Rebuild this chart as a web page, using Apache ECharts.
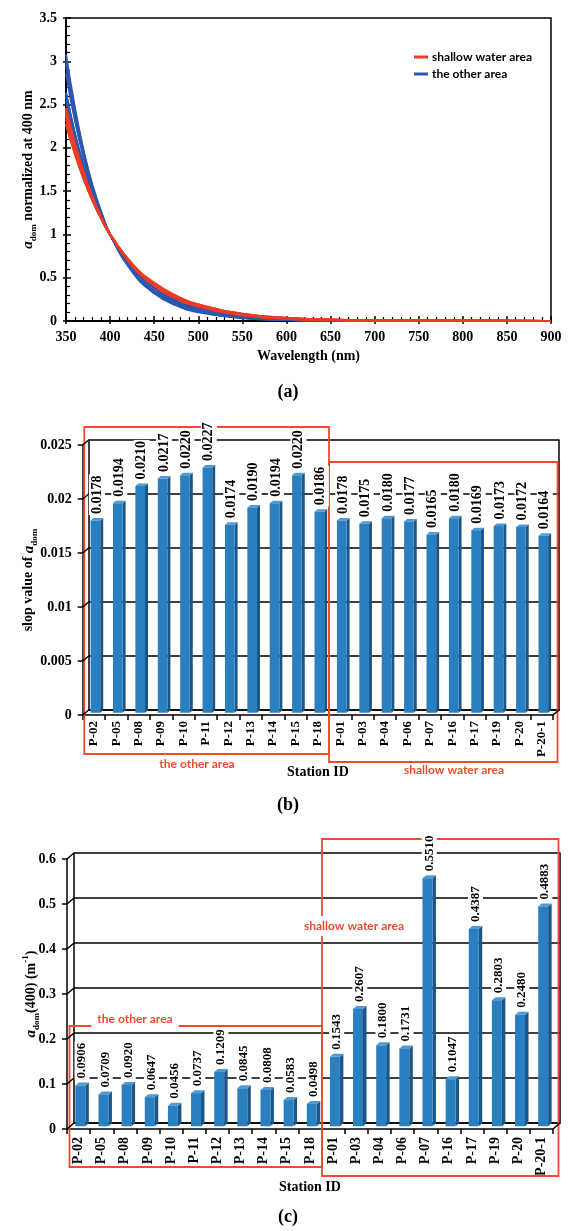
<!DOCTYPE html>
<html>
<head>
<meta charset="utf-8">
<script src="https://cdn.jsdelivr.net/npm/echarts@6/dist/echarts.min.js"></script>
<style>html,body{margin:0;padding:0;background:#fff}#c{width:576px;height:1231px}</style>
</head>
<body>
<div id="c"></div>
<script>
// ---------- DATA ----------
const wavelengths = [350,360,370,380,390,400,425,450,475,500,550,600,650,700,900];
// a_dom normalized at 400 nm
const otherCurves = [
  [2.43,2.04,1.71,1.43,1.20,1,0.64,0.41,0.26,0.17,0.070,0.028,0.012,0.005,0],
  [2.64,2.17,1.79,1.47,1.21,1,0.62,0.38,0.23,0.14,0.054,0.021,0.008,0.003,0],
  [2.86,2.32,1.88,1.52,1.23,1,0.59,0.35,0.21,0.12,0.043,0.015,0.005,0.002,0],
  [2.96,2.38,1.92,1.54,1.24,1,0.58,0.34,0.20,0.11,0.039,0.013,0.004,0.001,0],
  [3.00,2.41,1.94,1.55,1.25,1,0.58,0.33,0.19,0.11,0.037,0.012,0.004,0.001,0],
  [3.08,2.47,1.97,1.57,1.26,1,0.57,0.32,0.18,0.10,0.033,0.011,0.003,0.001,0],
  [2.39,2.01,1.69,1.42,1.19,1,0.65,0.42,0.27,0.18,0.074,0.031,0.013,0.005,0],
  [2.59,2.14,1.77,1.46,1.21,1,0.62,0.39,0.24,0.15,0.058,0.022,0.009,0.003,0],
  [2.63,2.17,1.79,1.47,1.21,1,0.62,0.38,0.23,0.14,0.054,0.021,0.008,0.003,0],
  [3.00,2.41,1.94,1.55,1.25,1,0.58,0.33,0.19,0.11,0.037,0.012,0.004,0.001,0],
  [2.54,2.10,1.75,1.45,1.20,1,0.63,0.40,0.25,0.16,0.061,0.024,0.010,0.004,0]
];
const shallowCurves = [
  [2.43,2.04,1.71,1.43,1.20,1,0.64,0.41,0.26,0.17,0.069,0.028,0.012,0.005,0],
  [2.40,2.01,1.69,1.42,1.19,1,0.65,0.42,0.27,0.17,0.072,0.030,0.013,0.005,0],
  [2.46,2.05,1.72,1.43,1.20,1,0.64,0.41,0.26,0.17,0.067,0.027,0.011,0.005,0],
  [2.42,2.03,1.70,1.43,1.19,1,0.64,0.41,0.27,0.17,0.070,0.029,0.012,0.005,0],
  [2.28,1.94,1.64,1.39,1.18,1,0.66,0.44,0.29,0.19,0.084,0.037,0.016,0.007,0],
  [2.46,2.05,1.72,1.43,1.20,1,0.64,0.41,0.26,0.17,0.067,0.027,0.011,0.005,0],
  [2.33,1.97,1.66,1.40,1.18,1,0.66,0.43,0.28,0.19,0.079,0.034,0.015,0.006,0],
  [2.38,2.00,1.68,1.41,1.19,1,0.65,0.42,0.27,0.18,0.075,0.031,0.013,0.006,0],
  [2.36,1.99,1.68,1.41,1.19,1,0.65,0.42,0.28,0.18,0.076,0.032,0.014,0.006,0],
  [2.27,1.93,1.64,1.39,1.18,1,0.66,0.44,0.29,0.19,0.085,0.038,0.017,0.007,0]
];
const stations = ['P-02','P-05','P-08','P-09','P-10','P-11','P-12','P-13','P-14','P-15','P-18',
                  'P-01','P-03','P-04','P-06','P-07','P-16','P-17','P-19','P-20','P-20-1'];
const slopeValues = [0.0178,0.0194,0.0210,0.0217,0.0220,0.0227,0.0174,0.0190,0.0194,0.0220,0.0186,
                     0.0178,0.0175,0.0180,0.0177,0.0165,0.0180,0.0169,0.0173,0.0172,0.0164];
const a400Values = [0.0906,0.0709,0.0920,0.0647,0.0456,0.0737,0.1209,0.0845,0.0808,0.0583,0.0498,
                    0.1543,0.2607,0.1800,0.1731,0.5510,0.1047,0.4387,0.2803,0.2480,0.4883];
const slopeTicks = [0,0.005,0.01,0.015,0.02,0.025];
const a400Ticks = [0,0.1,0.2,0.3,0.4,0.5,0.6];

// ---------- STYLE ----------
const SERIF = '"Liberation Serif","Times New Roman",serif';
const SANS = 'Lato, "Open Sans", sans-serif';
const RED = '#f04a2f', BLUE_LINE = '#2a57b0', RED_LINE = '#ee3b24';
const FRONT = '#2a7fc1', SIDE = '#1c5687', TOPC = '#4f9ad6';

const chart = echarts.init(document.getElementById('c'), null, {renderer: 'canvas'});

function richName(size) {
  return {
    n: {fontFamily: SERIF, fontWeight: 'bold', fontSize: size, lineHeight: 20, verticalAlign: 'middle', color: '#000'},
    i: {fontFamily: SERIF, fontWeight: 'bold', fontStyle: 'italic', fontSize: size + 1, lineHeight: 20, verticalAlign: 'middle', color: '#000'},
    s: {fontFamily: SERIF, fontWeight: 'bold', fontSize: 9, lineHeight: 20, verticalAlign: 'bottom', color: '#000'},
    sup: {fontFamily: SERIF, fontWeight: 'bold', fontSize: 9, lineHeight: 20, verticalAlign: 'top', color: '#000'}
  };
}
const axLine = {show: true, lineStyle: {color: '#000', width: 1.5}};
const tickLbl = {color: '#000', fontFamily: SERIF, fontWeight: 'bold', fontSize: 14};

function bar3d(dx, dy, fontSize) {
  return function (params, api) {
    const i = api.value(0), v = api.value(1);
    const p0 = api.coord([i, 0]), p1 = api.coord([i, v]);
    const band = api.size([1, 0])[0];
    const w = band * 0.43;
    const offX = dx * 0.25, offY = dy * 0.45;
    const ddx = dx * 0.5, ddy = dy * 0.5;
    const x = p0[0] - w / 2 + offX;
    const yb = p0[1] - offY, yt = p1[1] - offY;
    return {
      type: 'group',
      children: [
        {type: 'polygon', shape: {points: [[x + w, yt], [x + w + ddx, yt - ddy], [x + w + ddx, yb - ddy], [x + w, yb]]}, style: {fill: SIDE}},
        {type: 'polygon', shape: {points: [[x, yt], [x + ddx, yt - ddy], [x + w + ddx, yt - ddy], [x + w, yt]]}, style: {fill: TOPC}},
        {type: 'rect', shape: {x: x, y: yt, width: w, height: yb - yt}, style: {fill: FRONT}},
        {type: 'text', x: x + w / 2 + ddx / 2, y: yt - ddy - 3, rotation: Math.PI / 2, z2: 10,
          style: {text: v.toFixed(4), align: 'left', verticalAlign: 'middle',
            font: 'bold ' + fontSize + 'px ' + SERIF, fill: '#000', backgroundColor: '#fff', padding: [1, 1, 1, 1]}}
      ]
    };
  };
}
function frame3d(dx, dy) {
  return function (params, api) {
    const v = api.value(1);
    const p = api.coord([0, v]);
    const cs = params.coordSys;
    const ch = [{type: 'line', shape: {x1: cs.x, y1: p[1], x2: cs.x + dx, y2: p[1] - dy}, style: {stroke: '#000', lineWidth: 1.5}}];
    if (v === 0) ch.push({type: 'line', shape: {x1: cs.x + cs.width, y1: p[1], x2: cs.x + cs.width + dx, y2: p[1] - dy}, style: {stroke: '#000', lineWidth: 1.5}});
    return {type: 'group', children: ch};
  };
}

const lineSeries = [];
otherCurves.forEach(c => lineSeries.push({
  name: 'the other area', type: 'line', xAxisIndex: 0, yAxisIndex: 0, showSymbol: false, smooth: true,
  lineStyle: {color: BLUE_LINE, width: 2}, itemStyle: {color: BLUE_LINE}, z: 2,
  data: wavelengths.map((w, k) => [w, c[k]])
}));
shallowCurves.forEach(c => lineSeries.push({
  name: 'shallow water area', type: 'line', xAxisIndex: 0, yAxisIndex: 0, showSymbol: false, smooth: true,
  lineStyle: {color: RED_LINE, width: 2}, itemStyle: {color: RED_LINE}, z: 3,
  data: wavelengths.map((w, k) => [w, c[k]])
}));

const option = {
  animation: false,
  backgroundColor: '#fff',
  title: [
    {text: '(a)', left: 'center', top: 378, textStyle: {fontFamily: SERIF, fontWeight: 'bold', fontSize: 18, color: '#000'}},
    {text: '(b)', left: 'center', top: 791, textStyle: {fontFamily: SERIF, fontWeight: 'bold', fontSize: 18, color: '#000'}},
    {text: '(c)', left: 'center', top: 1203, textStyle: {fontFamily: SERIF, fontWeight: 'bold', fontSize: 18, color: '#000'}}
  ],
  legend: {
    data: ['shallow water area', 'the other area'], orient: 'vertical', left: 409, top: 46,
    icon: 'rect', itemWidth: 14, itemHeight: 3, itemGap: 5,
    textStyle: {fontFamily: SANS, fontWeight: 'bold', fontSize: 12, color: '#000', padding: [0, 0, 0, -1]}
  },
  grid: [
    {left: 66, top: 18, width: 485, height: 303, show: true, borderColor: '#000', borderWidth: 1.5},
    {left: 88.7, top: 440, width: 470.3, height: 270},
    {left: 82.7, top: 445, width: 470.3, height: 270},
    {left: 74, top: 853, width: 486, height: 270},
    {left: 67, top: 859, width: 486, height: 270}
  ],
  xAxis: [
    {gridIndex: 0, type: 'value', position: 'bottom', min: 350, max: 900, interval: 50,
      axisLine: {show: true, lineStyle: {color: '#000', width: 2}}, axisTick: {show: true, inside: false, length: 3, lineStyle: {color: '#000', width: 1.5}},
      axisLabel: Object.assign({margin: 9}, tickLbl), splitLine: {show: false},
      name: 'Wavelength (nm)', nameLocation: 'middle', nameGap: 28, nameMoveOverlap: false,
      nameTextStyle: {fontFamily: SERIF, fontWeight: 'bold', fontSize: 14, color: '#000'}},
    {gridIndex: 0, type: 'value', position: 'bottom', min: 350, max: 900, interval: 50,
      axisLine: {show: false}, axisTick: {show: true, inside: true, length: 5, lineStyle: {color: '#000', width: 1.5}},
      minorTick: {show: true, splitNumber: 5, length: 4, lineStyle: {color: '#000', width: 1.2}},
      axisLabel: {show: false}, splitLine: {show: false}},
    {gridIndex: 1, type: 'category', data: stations, position: 'bottom', axisLine: axLine, axisTick: {show: false}, axisLabel: {show: false}},
    {gridIndex: 2, type: 'category', data: stations, position: 'bottom', axisLine: axLine,
      axisTick: {show: true, length: 5, lineStyle: {color: '#000', width: 1.5}},
      axisLabel: {interval: 0, rotate: 90, margin: 6, color: '#000', fontFamily: SERIF, fontWeight: 'bold', fontSize: 13},
      name: 'Station ID', nameLocation: 'middle', nameGap: 50, nameMoveOverlap: false,
      nameTextStyle: {fontFamily: SERIF, fontWeight: 'bold', fontSize: 14, color: '#000'}},
    {gridIndex: 3, type: 'category', data: stations, position: 'bottom', axisLine: axLine, axisTick: {show: false}, axisLabel: {show: false}},
    {gridIndex: 4, type: 'category', data: stations, position: 'bottom', axisLine: axLine,
      axisTick: {show: true, length: 5, lineStyle: {color: '#000', width: 1.5}},
      axisLabel: {interval: 0, rotate: 90, margin: 8, color: '#000', fontFamily: SERIF, fontWeight: 'bold', fontSize: 14},
      name: 'Station ID', nameLocation: 'middle', nameGap: 51, nameMoveOverlap: false,
      nameTextStyle: {fontFamily: SERIF, fontWeight: 'bold', fontSize: 14, color: '#000'}}
  ],
  yAxis: [
    {gridIndex: 0, type: 'value', position: 'left', min: 0, max: 3.5, interval: 0.5,
      axisLine: {show: true, lineStyle: {color: '#000', width: 2}}, axisTick: {show: true, inside: false, length: 3, lineStyle: {color: '#000', width: 1.5}},
      axisLabel: Object.assign({margin: 9}, tickLbl), splitLine: {show: false},
      name: '{i|a}{s|dom}{n| normalized at 400 nm}', nameLocation: 'middle', nameGap: 28, nameMoveOverlap: false,
      nameTextStyle: {rich: richName(14)}},
    {gridIndex: 0, type: 'value', position: 'left', min: 0, max: 3.5, interval: 0.5,
      axisLine: {show: false}, axisTick: {show: true, inside: true, length: 5, lineStyle: {color: '#000', width: 1.5}},
      minorTick: {show: true, splitNumber: 5, length: 4, lineStyle: {color: '#000', width: 1.2}},
      axisLabel: {show: false}, splitLine: {show: false}},
    {gridIndex: 1, type: 'value', position: 'left', min: 0, max: 0.025, interval: 0.005,
      axisLine: axLine, axisTick: {show: false}, axisLabel: {show: false},
      splitLine: {show: true, lineStyle: {color: '#000', width: 1.5}}},
    {gridIndex: 1, type: 'value', position: 'right', min: 0, max: 0.025, interval: 0.005,
      axisLine: axLine, axisTick: {show: false}, axisLabel: {show: false}, splitLine: {show: false}},
    {gridIndex: 2, type: 'value', position: 'left', min: 0, max: 0.025, interval: 0.005,
      axisLine: axLine, axisTick: {show: true, length: 5, lineStyle: {color: '#000', width: 1.5}},
      axisLabel: Object.assign({margin: 11}, tickLbl), splitLine: {show: false},
      name: '{n|slop value of }{i|a}{s|dom}', nameLocation: 'middle', nameGap: 44, nameMoveOverlap: false,
      nameTextStyle: {rich: richName(14)}},
    {gridIndex: 3, type: 'value', position: 'left', min: 0, max: 0.6, interval: 0.1,
      axisLine: axLine, axisTick: {show: false}, axisLabel: {show: false},
      splitLine: {show: true, lineStyle: {color: '#000', width: 1.5}}},
    {gridIndex: 3, type: 'value', position: 'right', min: 0, max: 0.6, interval: 0.1,
      axisLine: axLine, axisTick: {show: false}, axisLabel: {show: false}, splitLine: {show: false}},
    {gridIndex: 4, type: 'value', position: 'left', min: 0, max: 0.6, interval: 0.1,
      axisLine: axLine, axisTick: {show: true, length: 5, lineStyle: {color: '#000', width: 1.5}},
      axisLabel: Object.assign({margin: 11}, tickLbl), splitLine: {show: false},
      name: '{i|a}{s|dom}{n|(400) (m}{sup|-1}{n|)}', nameLocation: 'middle', nameGap: 26, nameMoveOverlap: false,
      nameTextStyle: {rich: richName(14)}}
  ],
  graphic: [
    {type: 'rect', shape: {x: 84.3, y: 427, width: 244.7, height: 327}, style: {fill: 'none', stroke: RED, lineWidth: 1.8}, z: 1},
    {type: 'rect', shape: {x: 329, y: 462, width: 228.5, height: 300}, style: {fill: 'none', stroke: RED, lineWidth: 1.8}, z: 1},
    {type: 'text', x: 197, y: 764, style: {text: 'the other area', align: 'center', verticalAlign: 'middle', font: 'bold 12px ' + SANS, fill: RED}, z: 5},
    {type: 'text', x: 454, y: 770, style: {text: 'shallow water area', align: 'center', verticalAlign: 'middle', font: 'bold 12px ' + SANS, fill: RED}, z: 5},
    {type: 'rect', shape: {x: 69.5, y: 1026, width: 252.5, height: 141}, style: {fill: 'none', stroke: RED, lineWidth: 1.8}, z: 1},
    {type: 'rect', shape: {x: 322, y: 839, width: 236.5, height: 337}, style: {fill: 'none', stroke: RED, lineWidth: 1.8}, z: 1},
    {type: 'text', x: 135, y: 1019, style: {text: 'the other area', align: 'center', verticalAlign: 'middle', font: 'bold 12px ' + SANS, fill: RED, backgroundColor: '#fff', padding: [3, 6, 4, 6]}, z: 5},
    {type: 'text', x: 354, y: 926, style: {text: 'shallow water area', align: 'center', verticalAlign: 'middle', font: 'bold 12px ' + SANS, fill: RED, backgroundColor: '#fff', padding: [4, 2, 4, 2]}, z: 5}
  ],
  series: lineSeries.concat([
    {type: 'custom', name: 'frameB', xAxisIndex: 3, yAxisIndex: 4, clip: false, silent: true, z: 1,
      renderItem: frame3d(6, 5), data: slopeTicks.map(v => [0, v])},
    {type: 'custom', name: 'slope', xAxisIndex: 3, yAxisIndex: 4, clip: false, z: 3,
      renderItem: bar3d(6, 5, 14), encode: {x: 0, y: 1}, data: slopeValues.map((v, i) => [i, v])},
    {type: 'custom', name: 'frameC', xAxisIndex: 5, yAxisIndex: 7, clip: false, silent: true, z: 1,
      renderItem: frame3d(7, 6), data: a400Ticks.map(v => [0, v])},
    {type: 'custom', name: 'a400', xAxisIndex: 5, yAxisIndex: 7, clip: false, z: 3,
      renderItem: bar3d(7, 6, 13), encode: {x: 0, y: 1}, data: a400Values.map((v, i) => [i, v])}
  ])
};
chart.setOption(option);
</script>
</body>
</html>
